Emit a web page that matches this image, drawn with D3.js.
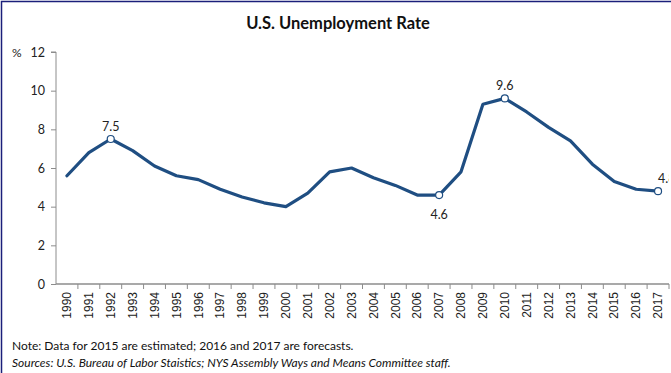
<!DOCTYPE html>
<html>
<head>
<meta charset="utf-8">
<script src="https://cdn.jsdelivr.net/npm/d3@7"></script>
<style>
  body { margin: 0; background: #fff; }
  svg { display: block; }
  text { font-family: "Liberation Sans", Arial, sans-serif; }
  .cal { font-family: Lato, "Open Sans", sans-serif; }
</style>
</head>
<body>
<svg id="chart" width="671" height="373"></svg>
<script>
const years = d3.range(1990, 2018).map(String);
const rates = [5.6, 6.8, 7.5, 6.9, 6.1, 5.6, 5.4, 4.9, 4.5, 4.2, 4.0, 4.7, 5.8, 6.0,
               5.5, 5.1, 4.6, 4.6, 5.8, 9.3, 9.6, 8.9, 8.1, 7.4, 6.2, 5.3, 4.9, 4.8];
const yTicks = [0, 2, 4, 6, 8, 10, 12];
const labelled = [
    { year: '1992', text: '7.5', pos: 'above' },
    { year: '2007', text: '4.6', pos: 'below' },
    { year: '2010', text: '9.6', pos: 'above' },
    { year: '2017', text: '4.8', pos: 'right' }
];

const svg = d3.select('#chart');
const data = years.map((y, i) => ({ year: y, rate: rates[i] }));

const x = d3.scaleBand().domain(years).range([56, 669]);
const y = d3.scaleLinear().domain([0, 12]).range([284, 52]);
const cx = d => x(d) + x.bandwidth() / 2;

// frame
svg.append('path')
    .attr('d', 'M1.5,373 V1.5 H671')
    .attr('fill', 'none')
    .attr('stroke', '#1b1f7a')
    .attr('stroke-width', 1.5);

svg.append('text')
    .attr('class', 'cal')
    .attr('x', 338).attr('y', 29)
    .attr('text-anchor', 'middle')
    .attr('font-size', 16.5)
    .attr('font-weight', 'bold')
    .attr('fill', '#111')
    .text('U.S. Unemployment  Rate');

// y axis
const yAxis = svg.append('g')
    .attr('transform', 'translate(56,0)')
    .call(d3.axisLeft(y).tickValues(yTicks).tickSize(5).tickPadding(6));
yAxis.select('.domain').attr('stroke', '#8c8c8c').attr('d', 'M-5,52H0V284');
yAxis.selectAll('.tick line').attr('stroke', '#8c8c8c');
yAxis.selectAll('.tick text').attr('font-size', 12.5).attr('fill', '#222').attr('class', 'cal');

svg.append('text')
    .attr('class', 'cal')
    .attr('x', 12).attr('y', 57)
    .attr('font-size', 12)
    .attr('fill', '#222')
    .text('%');

// x axis
const xAxis = svg.append('g')
    .attr('transform', 'translate(0,284)')
    .call(d3.axisBottom(x).tickSize(0).tickPadding(8));
xAxis.select('.domain').attr('stroke', '#8c8c8c').attr('stroke-width', 1.5).attr('d', 'M56,0H669');
xAxis.selectAll('.tick text')
    .attr('font-size', 12)
    .attr('fill', '#222')
    .attr('transform', 'rotate(-90)')
    .attr('text-anchor', 'end')
    .attr('dy', '0.35em')
    .attr('x', -8)
    .attr('y', 0);
svg.append('g')
    .selectAll('line')
    .data(years.slice(1).concat(['end']))
    .enter()
    .append('line')
    .attr('x1', d => d === 'end' ? 669 : x(d))
    .attr('x2', d => d === 'end' ? 669 : x(d))
    .attr('y1', 284).attr('y2', 289)
    .attr('stroke', '#8c8c8c');

// line
const line = d3.line().x(d => cx(d.year)).y(d => y(d.rate));
svg.append('path')
    .datum(data)
    .attr('d', line)
    .attr('fill', 'none')
    .attr('stroke', '#1f4e82')
    .attr('stroke-width', 3.2)
    .attr('stroke-linejoin', 'round')
    .attr('stroke-linecap', 'round');

svg.append('defs').append('clipPath').attr('id', 'clip')
    .append('rect').attr('x', 0).attr('y', 0).attr('width', 669).attr('height', 373);

const lab = svg.append('g').attr('clip-path', 'url(#clip)');
labelled.forEach(l => {
    const d = data.find(e => e.year === l.year);
    const px = cx(d.year), py = y(d.rate);
    lab.append('circle')
        .attr('cx', px).attr('cy', py).attr('r', 3.5)
        .attr('fill', '#fff')
        .attr('stroke', '#1f4e82')
        .attr('stroke-width', 1.2);
    lab.append('text')
        .attr('class', 'cal')
        .attr('x', px)
        .attr('y', l.pos === 'below' ? py + 24 : py - 8)
        .attr('text-anchor', l.pos === 'right' ? 'start' : 'middle')
        .attr('font-size', 12.5)
        .attr('fill', '#222')
        .text(l.text);
});

svg.append('text')
    .attr('class', 'cal')
    .attr('x', 12).attr('y', 350)
    .attr('font-size', 12)
    .attr('fill', '#111')
    .text('Note: Data for 2015 are estimated; 2016 and 2017 are forecasts.');
svg.append('text')
    .attr('class', 'cal')
    .attr('x', 12).attr('y', 367)
    .attr('font-size', 12)
    .attr('font-style', 'italic')
    .attr('fill', '#111')
    .text('Sources: U.S. Bureau of Labor Staistics; NYS Assembly Ways and Means Committee staff.');
</script>
</body>
</html>
